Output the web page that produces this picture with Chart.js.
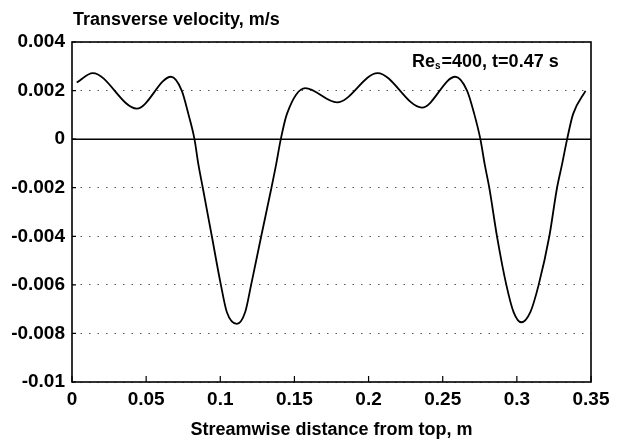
<!DOCTYPE html>
<html>
<head>
<meta charset="utf-8">
<script src="https://cdn.jsdelivr.net/npm/chart.js@4/dist/chart.umd.min.js"></script>
<style>
  html, body { margin: 0; padding: 0; background: #fff; }
  #wrap { width: 621px; height: 441px; }
</style>
</head>
<body>
<div id="wrap"><canvas id="c" width="621" height="441"></canvas></div>
<script>
// streamwise distance (m) and transverse velocity (m/s)
const xValues = [0.0032, 0.0140, 0.0437, 0.0668, 0.0740, 0.0785, 0.0826,
                 0.0852, 0.0882, 0.0943, 0.1004, 0.1044, 0.1112, 0.1168, 0.1208, 0.1276,
                 0.1345, 0.1377, 0.1408, 0.1449, 0.1573, 0.1787, 0.2061,
                 0.2360, 0.2585, 0.2664, 0.2713, 0.2754, 0.2783, 0.2814,
                 0.2866, 0.2929, 0.2978, 0.3030, 0.3091, 0.3147, 0.3219, 0.3271, 0.3305,
                 0.3339, 0.3379, 0.3463];
const yValues = [0.00233, 0.00272, 0.00126, 0.00257, 0.0020, 0.00103, 0,
                 -0.00103, -0.002, -0.004, -0.006, -0.00712, -0.00761, -0.00712, -0.006, -0.004,
                 -0.002, -0.00103, 0, 0.00103, 0.0021, 0.00151, 0.00272,
                 0.0013, 0.00257, 0.0020, 0.00103, 0, -0.00103, -0.002,
                 -0.004, -0.006, -0.00712, -0.00754, -0.00712, -0.006, -0.004, -0.002, -0.00103,
                 0, 0.00103, 0.00199];

const xTicks = [0, 0.05, 0.1, 0.15, 0.2, 0.25, 0.3, 0.35];
const xTickLabels = ['0', '0.05', '0.1', '0.15', '0.2', '0.25', '0.3', '0.35'];
const yTicks = [0.004, 0.002, 0, -0.002, -0.004, -0.006, -0.008, -0.01];
const yTickLabels = ['0.004', '0.002', '0', '-0.002', '-0.004', '-0.006', '-0.008', '-0.01'];

const yTitle = 'Transverse velocity, m/s';
const xTitle = 'Streamwise distance from top, m';

const FONT = '"Liberation Sans", Arial, sans-serif';

// frame, zero line, inward ticks and the texts drawn onto the canvas
const decor = {
    id: 'decor',
    beforeDatasetsDraw(chart) {
        const { ctx, chartArea: a, scales: { y } } = chart;
        const y0 = y.getPixelForValue(0);
        ctx.save();
        ctx.strokeStyle = '#000';
        ctx.lineWidth = 1.5;
        ctx.beginPath();
        ctx.moveTo(a.left, y0);
        ctx.lineTo(a.right, y0);
        ctx.stroke();
        ctx.restore();
    },
    afterDraw(chart) {
        const { ctx, chartArea: a, scales: { x, y } } = chart;
        ctx.save();
        ctx.strokeStyle = '#000';
        ctx.lineWidth = 1.6;
        ctx.strokeRect(a.left, a.top, a.right - a.left, a.bottom - a.top);

        ctx.lineWidth = 1.2;
        ctx.beginPath();
        xTicks.forEach(v => {
            const px = x.getPixelForValue(v);
            ctx.moveTo(px, a.bottom);
            ctx.lineTo(px, a.bottom - 6);
        });
        yTicks.forEach(v => {
            const py = y.getPixelForValue(v);
            ctx.moveTo(a.left, py);
            ctx.lineTo(a.left + 4, py);
        });
        ctx.stroke();

        ctx.fillStyle = '#000';
        ctx.textBaseline = 'alphabetic';
        ctx.textAlign = 'left';
        ctx.font = 'bold 18px ' + FONT;
        ctx.fillText(yTitle, a.left + 1, 25);

        // Re_s = 400 annotation
        let tx = 412;
        const ty = 67;
        ctx.fillText('Re', tx, ty);
        tx += ctx.measureText('Re').width;
        ctx.font = 'bold 10px ' + FONT;
        ctx.fillText('s', tx, ty + 2);
        tx += ctx.measureText('s').width + 1;
        ctx.font = 'bold 18px ' + FONT;
        ctx.fillText('=400, t=0.47 s', tx, ty);
        ctx.restore();
    }
};

new Chart(document.getElementById('c').getContext('2d'), {
    type: 'scatter',
    data: {
        datasets: [{
            data: xValues.map((v, i) => ({ x: v, y: yValues[i] })),
            showLine: true,
            borderColor: '#000',
            borderWidth: 1.8,
            pointRadius: 0,
            cubicInterpolationMode: 'monotone',
            fill: false
        }]
    },
    options: {
        responsive: false,
        animation: false,
        devicePixelRatio: 1,
        layout: { padding: { left: 0, top: 42, right: 30, bottom: 0 } },
        plugins: {
            legend: { display: false },
            tooltip: { enabled: false }
        },
        scales: {
            x: {
                type: 'linear',
                min: 0, max: 0.35,
                afterBuildTicks: s => { s.ticks = xTicks.map(v => ({ value: v })); },
                afterFit: s => { s.height = 59; },
                ticks: {
                    callback: (v, i) => xTickLabels[i],
                    color: '#000',
                    font: { family: FONT, size: 19, weight: 'bold' },
                    padding: 6,
                    maxRotation: 0
                },
                grid: { display: false, drawTicks: false },
                border: { display: false },
                title: {
                    display: true,
                    text: xTitle,
                    color: '#000',
                    font: { family: FONT, size: 18, weight: 'bold' },
                    padding: { top: 0, bottom: 0 }
                }
            },
            y: {
                type: 'linear',
                min: -0.01, max: 0.004,
                afterBuildTicks: s => { s.ticks = yTicks.map(v => ({ value: v })); },
                afterFit: s => { s.width = 72; },
                ticks: {
                    callback: (v, i) => yTickLabels[i],
                    color: '#000',
                    font: { family: FONT, size: 19, weight: 'bold' },
                    padding: 7
                },
                grid: {
                    drawTicks: false,
                    color: ctx => (ctx.tick && ctx.tick.value === 0) ? 'rgba(0,0,0,0)' : '#555',
                    lineWidth: 1
                },
                border: { display: false, dash: [1.5, 7] }
            }
        }
    },
    plugins: [decor]
});
</script>
</body>
</html>
